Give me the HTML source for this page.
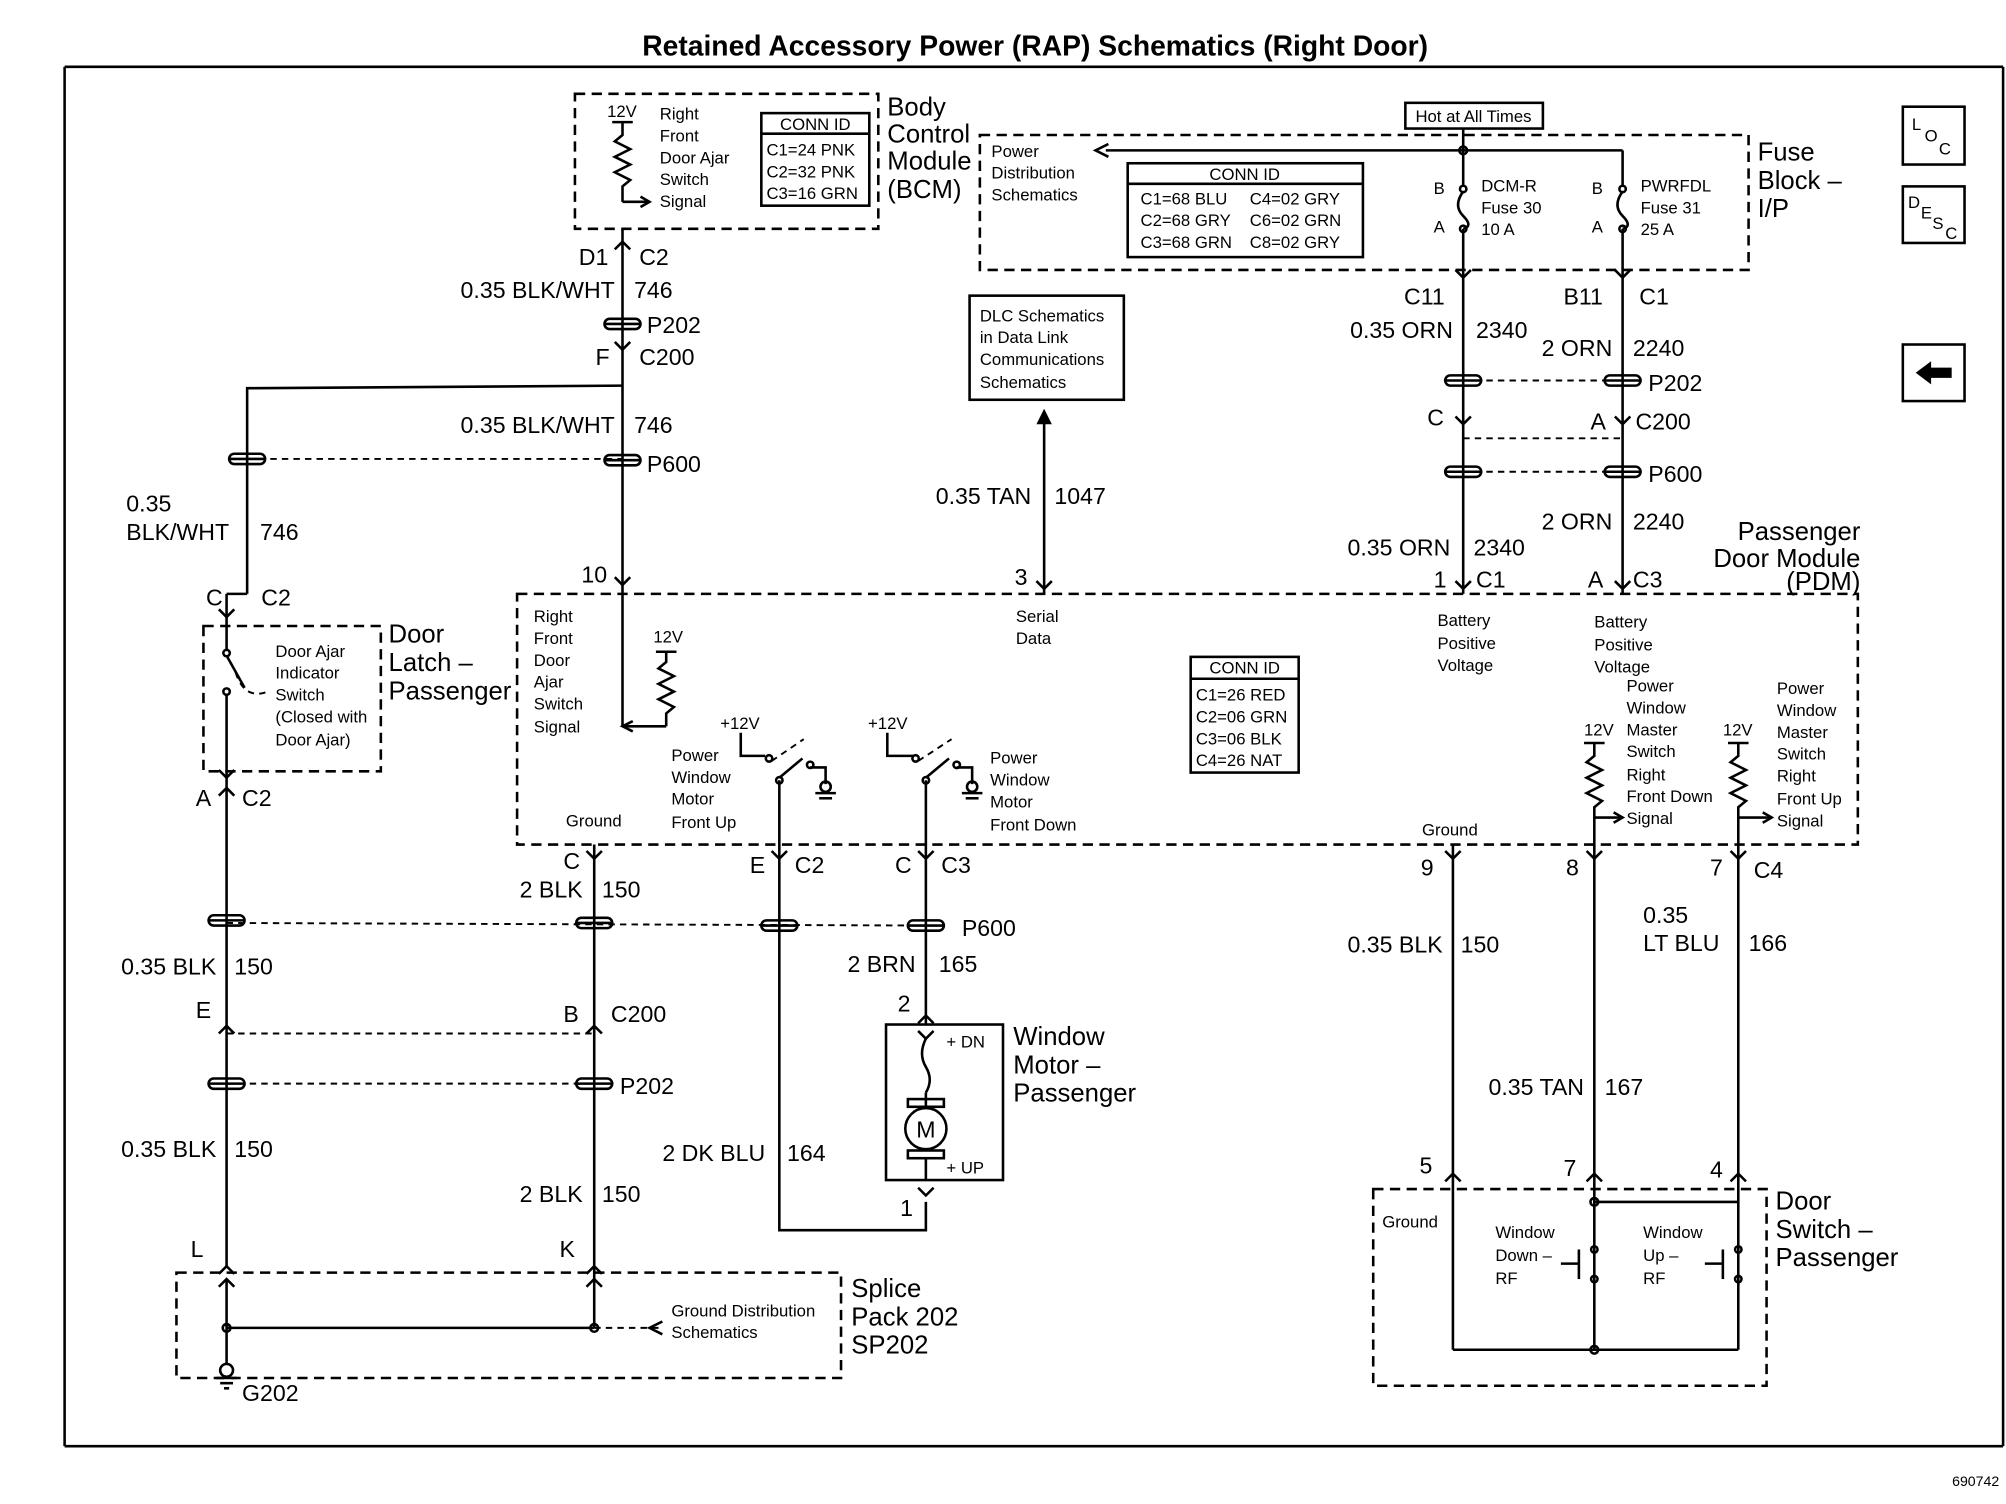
<!DOCTYPE html>
<html><head><meta charset="utf-8"><style>
html,body{margin:0;padding:0;background:#fff;}
svg{display:block;}
text{font-family:"Liberation Sans",Arial,sans-serif;fill:#000;}
.w{font-size:18px;}
.s{font-size:13px;}
.b{font-size:20px;}
.e{text-anchor:end;}
line,path,rect,polyline,circle,ellipse{stroke:#000;fill:none;stroke-width:2;}
.d{stroke-dasharray:8,5;}
.dd{stroke-dasharray:5,4;stroke-width:1.5;}
</style></head><body>
<svg width="2006" height="1504" viewBox="0 0 1560 1170" xmlns="http://www.w3.org/2000/svg">
<defs>
<g id="cn"><rect x="-14" y="-4" width="28" height="8" rx="4" stroke-width="2"/><line x1="-14" y1="0" x2="14" y2="0" stroke-width="1.5"/></g>
<g id="tu"><polyline points="-6,6 0,0 6,6" stroke-width="2"/></g>
<g id="td"><polyline points="-6,-6 0,0 6,-6" stroke-width="2"/></g>
</defs>
<text x="805" y="43" text-anchor="middle" style="font-size:22px;font-weight:bold">Retained Accessory Power (RAP) Schematics (Right Door)</text>
<line x1="50" y1="52" x2="1558" y2="52"/><line x1="50" y1="52" x2="50" y2="1125"/><line x1="1558" y1="52" x2="1558" y2="1125"/><line x1="50" y1="1125" x2="1558" y2="1125"/>
<text x="1555" y="1156" class="s e" style="font-size:11px">690742</text>

<!-- BCM -->
<rect x="447" y="73" width="236" height="105" class="d"/>
<text x="472" y="91" class="s">12V</text>
<line x1="476" y1="95" x2="492" y2="95"/>
<polyline points="484,95 484,105 478,110 490,116 478,122 490,128 478,134 490,140 484,145 484,157"/>
<line x1="484" y1="157" x2="505" y2="157"/><polyline points="498,153 505,157 498,161" fill="#000"/>
<text x="513" y="93" class="s">Right</text><text x="513" y="110" class="s">Front</text><text x="513" y="127" class="s">Door Ajar</text><text x="513" y="144" class="s">Switch</text><text x="513" y="161" class="s">Signal</text>
<rect x="592" y="88" width="84" height="72" stroke-width="1.5"/><line x1="592" y1="104" x2="676" y2="104" stroke-width="1.5"/>
<text x="634" y="101" class="s" text-anchor="middle">CONN ID</text>
<text x="596" y="121" class="s">C1=24 PNK</text><text x="596" y="138" class="s">C2=32 PNK</text><text x="596" y="155" class="s">C3=16 GRN</text>
<text x="690" y="90" class="b">Body</text><text x="690" y="111" class="b">Control</text><text x="690" y="132" class="b">Module</text><text x="690" y="154" class="b">(BCM)</text>

<!-- Wire 746 -->
<line x1="484" y1="178" x2="484" y2="462"/>
<use href="#tu" x="484" y="188"/>
<text x="450" y="206" class="w">D1</text><text x="497" y="206" class="w">C2</text>
<text x="478" y="232" class="w e">0.35 BLK/WHT</text><text x="493" y="232" class="w">746</text>
<use href="#cn" x="484" y="252"/><text x="503" y="259" class="w">P202</text>
<use href="#td" x="484" y="272"/>
<text x="463" y="284" class="w">F</text><text x="497" y="284" class="w">C200</text>
<polyline points="484,300 192,302 192,462"/>
<text x="478" y="337" class="w e">0.35 BLK/WHT</text><text x="493" y="337" class="w">746</text>
<line x1="192" y1="357" x2="484" y2="357" class="dd"/>
<use href="#cn" x="484" y="358"/><use href="#cn" x="192" y="357"/><text x="503" y="367" class="w">P600</text>
<use href="#td" x="484" y="455"/>
<text x="98" y="398" class="w">0.35</text><text x="98" y="420" class="w">BLK/WHT</text><text x="202" y="420" class="w">746</text>
<use href="#td" x="176" y="480"/><line x1="176" y1="462" x2="192" y2="462"/><line x1="176" y1="462" x2="176" y2="487"/>
<text x="160" y="471" class="w">C</text><text x="203" y="471" class="w">C2</text>

<!-- Door latch -->
<rect x="158" y="487" width="138" height="113" class="d"/>
<line x1="176" y1="487" x2="176" y2="505"/><circle cx="176" cy="508" r="2.5" fill="#000"/>
<line x1="176" y1="510" x2="190" y2="535"/><circle cx="176" cy="538" r="2.5" fill="#000"/>
<path d="M183,523 Q190,545 208,538" class="dd" stroke-width="1"/>
<line x1="176" y1="540" x2="176" y2="600"/>
<text x="214" y="511" class="s">Door Ajar</text><text x="214" y="528" class="s">Indicator</text><text x="214" y="545" class="s">Switch</text><text x="214" y="562" class="s">(Closed with</text><text x="214" y="580" class="s">Door Ajar)</text>
<text x="302" y="500" class="b">Door</text><text x="302" y="522" class="b">Latch –</text><text x="302" y="544" class="b">Passenger</text>
<use href="#td" x="176" y="605"/>
<text x="152" y="627" class="w">A</text><text x="188" y="627" class="w">C2</text>
<line x1="176" y1="600" x2="176" y2="985"/>
<use href="#tu" x="176" y="613"/>
<use href="#cn" x="176" y="716"/>
<text x="168" y="758" class="w e">0.35 BLK</text><text x="182" y="758" class="w">150</text>
<text x="152" y="792" class="w">E</text><use href="#tu" x="176" y="798"/>
<line x1="176" y1="804" x2="462" y2="804" class="dd"/>
<use href="#cn" x="176" y="843"/>
<line x1="176" y1="843" x2="462" y2="843" class="dd"/>
<text x="168" y="900" class="w e">0.35 BLK</text><text x="182" y="900" class="w">150</text>
<text x="148" y="978" class="w">L</text><use href="#tu" x="176" y="985"/><use href="#tu" x="176" y="995"/>

<!-- 150 middle -->
<line x1="462" y1="657" x2="462" y2="1033"/>
<use href="#td" x="462" y="668"/>
<text x="438" y="676" class="w">C</text>
<text x="453" y="698" class="w e">2 BLK</text><text x="468" y="698" class="w">150</text>
<line x1="176" y1="718" x2="720" y2="720" class="dd"/>
<use href="#cn" x="462" y="718"/>
<text x="438" y="795" class="w">B</text><text x="475" y="795" class="w">C200</text><use href="#tu" x="462" y="798"/>
<use href="#cn" x="462" y="843"/><text x="482" y="851" class="w">P202</text>
<text x="453" y="935" class="w e">2 BLK</text><text x="468" y="935" class="w">150</text>
<text x="435" y="978" class="w">K</text><use href="#tu" x="462" y="985"/><use href="#tu" x="462" y="995"/>

<!-- Splice -->
<rect x="137" y="990" width="517" height="82" class="d"/>
<line x1="176" y1="995" x2="176" y2="1062"/>
<line x1="176" y1="1033" x2="462" y2="1033"/><circle cx="176" cy="1033" r="3" fill="#000"/><circle cx="462" cy="1033" r="3" fill="#000"/>
<line x1="462" y1="1033" x2="515" y2="1033" class="dd"/><polyline points="515,1028 505,1033 515,1038" fill="#000"/>
<text x="522" y="1024" class="s">Ground Distribution</text><text x="522" y="1041" class="s">Schematics</text>
<circle cx="176" cy="1066" r="5" fill="#000"/>
<line x1="168" y1="1072" x2="184" y2="1072"/><line x1="171" y1="1076" x2="181" y2="1076"/><line x1="174" y1="1080" x2="178" y2="1080"/>
<text x="188" y="1090" class="w">G202</text>
<text x="662" y="1009" class="b">Splice</text><text x="662" y="1031" class="b">Pack 202</text><text x="662" y="1053" class="b">SP202</text>

<!-- 164 / 165 -->
<polyline points="606,657 606,957 720,957 720,935"/>
<use href="#td" x="606" y="668"/>
<text x="583" y="679" class="w">E</text><text x="618" y="679" class="w">C2</text>
<use href="#cn" x="606" y="720"/>
<text x="595" y="903" class="w e">2 DK BLU</text><text x="612" y="903" class="w">164</text>
<line x1="720" y1="657" x2="720" y2="797"/>
<use href="#td" x="720" y="668"/>
<text x="696" y="679" class="w">C</text><text x="732" y="679" class="w">C3</text>
<use href="#cn" x="720" y="720"/><text x="748" y="728" class="w">P600</text>
<text x="712" y="756" class="w e">2 BRN</text><text x="730" y="756" class="w">165</text>
<text x="698" y="787" class="w">2</text><use href="#tu" x="720" y="790"/>
<rect x="689" y="797" width="91" height="121"/>
<use href="#td" x="720" y="808"/>
<text x="736" y="815" class="s">+ DN</text><text x="736" y="913" class="s">+ UP</text>
<path d="M720,808 Q714,820 720,830 Q726,840 720,850"/>
<line x1="720" y1="850" x2="720" y2="860"/><rect x="706" y="855" width="28" height="6" fill="#000"/>
<circle cx="720" cy="878" r="16"/><text x="720" y="885" class="w" text-anchor="middle">M</text>
<rect x="706" y="895" width="28" height="6" fill="#000"/><line x1="720" y1="901" x2="720" y2="918"/>
<text x="788" y="813" class="b">Window</text><text x="788" y="835" class="b">Motor –</text><text x="788" y="857" class="b">Passenger</text>
<text x="700" y="946" class="w">1</text><use href="#td" x="720" y="930"/>

<!-- DLC -->
<rect x="754" y="230" width="120" height="81"/>
<text x="762" y="250" class="s">DLC Schematics</text><text x="762" y="267" class="s">in Data Link</text><text x="762" y="284" class="s">Communications</text><text x="762" y="302" class="s">Schematics</text>
<line x1="812" y1="325" x2="812" y2="462"/><polygon points="806,330 812,318 818,330" fill="#000"/>
<text x="802" y="392" class="w e">0.35 TAN</text><text x="820" y="392" class="w">1047</text>
<text x="789" y="455" class="w">3</text><use href="#td" x="812" y="458"/>

<!-- PDM -->
<rect x="402" y="462" width="1043" height="195" class="d"/>
<text x="452" y="453" class="w">10</text>
<text x="415" y="484" class="s">Right</text><text x="415" y="501" class="s">Front</text><text x="415" y="518" class="s">Door</text><text x="415" y="535" class="s">Ajar</text><text x="415" y="552" class="s">Switch</text><text x="415" y="570" class="s">Signal</text>
<line x1="484" y1="462" x2="484" y2="565"/><line x1="484" y1="565" x2="518" y2="565"/><polyline points="492,561 484,565 492,569" fill="#000"/>
<text x="508" y="500" class="s">12V</text><line x1="510" y1="507" x2="526" y2="507"/>
<polyline points="518,507 518,515 512,520 524,526 512,532 524,538 512,544 524,550 518,555 518,565"/>
<text x="440" y="643" class="s">Ground</text>
<text x="790" y="484" class="s">Serial</text><text x="790" y="501" class="s">Data</text>
<!-- switches -->
<text x="560" y="567" class="s">+12V</text><polyline points="576,570 576,588 595,588"/><circle cx="598" cy="590" r="2.5" fill="#000"/>
<line x1="600" y1="592" x2="625" y2="575" class="dd"/>
<line x1="606" y1="605" x2="624" y2="590"/><circle cx="606" cy="607" r="2.5" fill="#000"/><circle cx="630" cy="595" r="2.5" fill="#000"/>
<polyline points="630,597 642,597 642,610"/><circle cx="642" cy="612" r="4" fill="#000"/><line x1="634" y1="617" x2="650" y2="617"/><line x1="637" y1="621" x2="647" y2="621"/>
<line x1="606" y1="607" x2="606" y2="657"/>
<text x="522" y="592" class="s">Power</text><text x="522" y="609" class="s">Window</text><text x="522" y="626" class="s">Motor</text><text x="522" y="644" class="s">Front Up</text>
<text x="675" y="567" class="s">+12V</text><polyline points="690,570 690,588 710,588"/><circle cx="712" cy="590" r="2.5" fill="#000"/>
<line x1="714" y1="592" x2="740" y2="575" class="dd"/>
<line x1="720" y1="605" x2="738" y2="590"/><circle cx="720" cy="607" r="2.5" fill="#000"/><circle cx="744" cy="595" r="2.5" fill="#000"/>
<polyline points="744,597 756,597 756,610"/><circle cx="756" cy="612" r="4" fill="#000"/><line x1="748" y1="617" x2="764" y2="617"/><line x1="751" y1="621" x2="761" y2="621"/>
<line x1="720" y1="607" x2="720" y2="657"/>
<text x="770" y="594" class="s">Power</text><text x="770" y="611" class="s">Window</text><text x="770" y="628" class="s">Motor</text><text x="770" y="646" class="s">Front Down</text>
<rect x="926" y="511" width="84" height="90" stroke-width="1.5"/><line x1="926" y1="528" x2="1010" y2="528" stroke-width="1.5"/>
<text x="968" y="524" class="s" text-anchor="middle">CONN ID</text>
<text x="930" y="545" class="s">C1=26 RED</text><text x="930" y="562" class="s">C2=06 GRN</text><text x="930" y="579" class="s">C3=06 BLK</text><text x="930" y="596" class="s">C4=26 NAT</text>
<text x="1115" y="457" class="w">1</text><text x="1148" y="457" class="w">C1</text><text x="1235" y="457" class="w">A</text><text x="1270" y="457" class="w">C3</text>
<text x="1118" y="487" class="s">Battery</text><text x="1118" y="505" class="s">Positive</text><text x="1118" y="522" class="s">Voltage</text>
<text x="1240" y="488" class="s">Battery</text><text x="1240" y="506" class="s">Positive</text><text x="1240" y="523" class="s">Voltage</text>
<text x="1265" y="538" class="s">Power</text><text x="1265" y="555" class="s">Window</text><text x="1265" y="572" class="s">Master</text><text x="1265" y="589" class="s">Switch</text><text x="1265" y="607" class="s">Right</text><text x="1265" y="624" class="s">Front Down</text><text x="1265" y="641" class="s">Signal</text>
<text x="1382" y="540" class="s">Power</text><text x="1382" y="557" class="s">Window</text><text x="1382" y="574" class="s">Master</text><text x="1382" y="591" class="s">Switch</text><text x="1382" y="608" class="s">Right</text><text x="1382" y="626" class="s">Front Up</text><text x="1382" y="643" class="s">Signal</text>
<text x="1232" y="572" class="s">12V</text><line x1="1232" y1="578" x2="1248" y2="578"/>
<polyline points="1240,578 1240,588 1234,593 1246,599 1234,605 1246,611 1234,617 1246,623 1240,628 1240,657"/>
<line x1="1240" y1="636" x2="1262" y2="636"/><polyline points="1255,632 1262,636 1255,640" fill="#000"/>
<text x="1340" y="572" class="s">12V</text><line x1="1344" y1="578" x2="1360" y2="578"/>
<polyline points="1352,578 1352,588 1346,593 1358,599 1346,605 1358,611 1346,617 1358,623 1352,628 1352,657"/>
<line x1="1352" y1="636" x2="1378" y2="636"/><polyline points="1371,632 1378,636 1371,640" fill="#000"/>
<text x="1106" y="650" class="s">Ground</text>
<text x="1447" y="420" class="b e">Passenger</text><text x="1447" y="441" class="b e">Door Module</text><text x="1447" y="459" class="b e">(PDM)</text>

<!-- Fuse block -->
<rect x="1093" y="80" width="107" height="20" stroke-width="1.5"/><text x="1146" y="95" class="s" text-anchor="middle">Hot at All Times</text>
<line x1="1138" y1="100" x2="1138" y2="117"/>
<rect x="762" y="105" width="598" height="105" class="d"/>
<line x1="860" y1="117" x2="1262" y2="117"/><polyline points="862,112 852,117 862,122" fill="#000"/>
<circle cx="1138" cy="117" r="3" fill="#000"/>
<text x="771" y="122" class="s">Power</text><text x="771" y="139" class="s">Distribution</text><text x="771" y="156" class="s">Schematics</text>
<rect x="877" y="127" width="183" height="73" stroke-width="1.5"/><line x1="877" y1="143" x2="1060" y2="143" stroke-width="1.5"/>
<text x="968" y="140" class="s" text-anchor="middle">CONN ID</text>
<text x="887" y="159" class="s">C1=68 BLU</text><text x="972" y="159" class="s">C4=02 GRY</text>
<text x="887" y="176" class="s">C2=68 GRY</text><text x="972" y="176" class="s">C6=02 GRN</text>
<text x="887" y="193" class="s">C3=68 GRN</text><text x="972" y="193" class="s">C8=02 GRY</text>
<line x1="1138" y1="117" x2="1138" y2="145"/><circle cx="1138" cy="147" r="2.5" fill="#000"/>
<path d="M1138,149 Q1130,160 1138,168 Q1146,176 1138,178"/><circle cx="1138" cy="178" r="2.5" fill="#000"/>
<line x1="1262" y1="117" x2="1262" y2="145"/><circle cx="1262" cy="147" r="2.5" fill="#000"/>
<path d="M1262,149 Q1254,160 1262,168 Q1270,176 1262,178"/><circle cx="1262" cy="178" r="2.5" fill="#000"/>
<text x="1115" y="151" class="s">B</text><text x="1115" y="181" class="s">A</text><text x="1238" y="151" class="s">B</text><text x="1238" y="181" class="s">A</text>
<text x="1152" y="149" class="s">DCM-R</text><text x="1152" y="166" class="s">Fuse 30</text><text x="1152" y="183" class="s">10 A</text>
<text x="1276" y="149" class="s">PWRFDL</text><text x="1276" y="166" class="s">Fuse 31</text><text x="1276" y="183" class="s">25 A</text>
<text x="1367" y="125" class="b">Fuse</text><text x="1367" y="147" class="b">Block –</text><text x="1367" y="169" class="b">I/P</text>

<line x1="1138" y1="178" x2="1138" y2="462"/><line x1="1262" y1="178" x2="1262" y2="462"/>
<use href="#td" x="1138" y="216"/><use href="#td" x="1262" y="216"/>
<text x="1092" y="237" class="w">C11</text><text x="1216" y="237" class="w">B11</text><text x="1275" y="237" class="w">C1</text>
<text x="1130" y="263" class="w e">0.35 ORN</text><text x="1148" y="263" class="w">2340</text>
<text x="1254" y="277" class="w e">2 ORN</text><text x="1270" y="277" class="w">2240</text>
<line x1="1138" y1="296" x2="1262" y2="296" class="dd"/>
<use href="#cn" x="1138" y="296"/><use href="#cn" x="1262" y="296"/><text x="1282" y="304" class="w">P202</text>
<use href="#td" x="1138" y="330"/><use href="#td" x="1262" y="330"/>
<text x="1110" y="331" class="w">C</text><text x="1237" y="334" class="w">A</text><text x="1272" y="334" class="w">C200</text>
<line x1="1138" y1="341" x2="1262" y2="341" class="dd"/>
<line x1="1138" y1="367" x2="1262" y2="367" class="dd"/>
<use href="#cn" x="1138" y="367"/><use href="#cn" x="1262" y="367"/><text x="1282" y="375" class="w">P600</text>
<text x="1254" y="412" class="w e">2 ORN</text><text x="1270" y="412" class="w">2240</text>
<text x="1128" y="432" class="w e">0.35 ORN</text><text x="1146" y="432" class="w">2340</text>
<use href="#td" x="1138" y="458"/><use href="#td" x="1262" y="458"/>

<!-- bottom right -->
<line x1="1130" y1="657" x2="1130" y2="1050"/><line x1="1240" y1="657" x2="1240" y2="1050"/><line x1="1352" y1="657" x2="1352" y2="1000"/>
<use href="#td" x="1130" y="668"/><use href="#td" x="1240" y="668"/><use href="#td" x="1352" y="668"/>
<text x="1105" y="681" class="w">9</text><text x="1218" y="681" class="w">8</text><text x="1330" y="681" class="w">7</text><text x="1364" y="683" class="w">C4</text>
<text x="1122" y="741" class="w e">0.35 BLK</text><text x="1136" y="741" class="w">150</text>
<text x="1278" y="718" class="w">0.35</text><text x="1278" y="740" class="w">LT BLU</text><text x="1360" y="740" class="w">166</text>
<text x="1232" y="852" class="w e">0.35 TAN</text><text x="1248" y="852" class="w">167</text>
<text x="1104" y="913" class="w">5</text><text x="1216" y="915" class="w">7</text><text x="1330" y="916" class="w">4</text>
<use href="#tu" x="1130" y="913"/><use href="#tu" x="1240" y="913"/><use href="#tu" x="1352" y="913"/>
<rect x="1068" y="925" width="306" height="153" class="d"/>
<text x="1075" y="955" class="s">Ground</text>
<line x1="1130" y1="1050" x2="1352" y2="1050"/><circle cx="1240" cy="1050" r="3" fill="#000"/>
<circle cx="1240" cy="935" r="3" fill="#000"/><polyline points="1240,935 1352,935"/>
<circle cx="1240" cy="972" r="2.5" fill="#000"/><circle cx="1240" cy="995" r="2.5" fill="#000"/>
<line x1="1228" y1="972" x2="1228" y2="995"/><line x1="1214" y1="983" x2="1228" y2="983"/>
<circle cx="1352" cy="972" r="2.5" fill="#000"/><circle cx="1352" cy="995" r="2.5" fill="#000"/>
<line x1="1340" y1="972" x2="1340" y2="995"/><line x1="1326" y1="983" x2="1340" y2="983"/>
<line x1="1352" y1="997" x2="1352" y2="1050"/>
<text x="1163" y="963" class="s">Window</text><text x="1163" y="981" class="s">Down –</text><text x="1163" y="999" class="s">RF</text>
<text x="1278" y="963" class="s">Window</text><text x="1278" y="981" class="s">Up –</text><text x="1278" y="999" class="s">RF</text>
<text x="1381" y="941" class="b">Door</text><text x="1381" y="963" class="b">Switch –</text><text x="1381" y="985" class="b">Passenger</text>

<!-- icons -->
<rect x="1480" y="83" width="48" height="45"/>
<text x="1487" y="101" style="font-size:13px">L</text><text x="1497" y="110" style="font-size:13px">O</text><text x="1508" y="120" style="font-size:13px">C</text>
<rect x="1480" y="145" width="48" height="44"/>
<text x="1484" y="162" style="font-size:13px">D</text><text x="1494" y="170" style="font-size:13px">E</text><text x="1503" y="178" style="font-size:13px">S</text><text x="1513" y="186" style="font-size:13px">C</text>
<rect x="1480" y="268" width="48" height="44"/>
<polygon points="1490,290 1502,281 1502,286 1518,286 1518,294 1502,294 1502,299" fill="#000"/>
</svg>
</body></html>
